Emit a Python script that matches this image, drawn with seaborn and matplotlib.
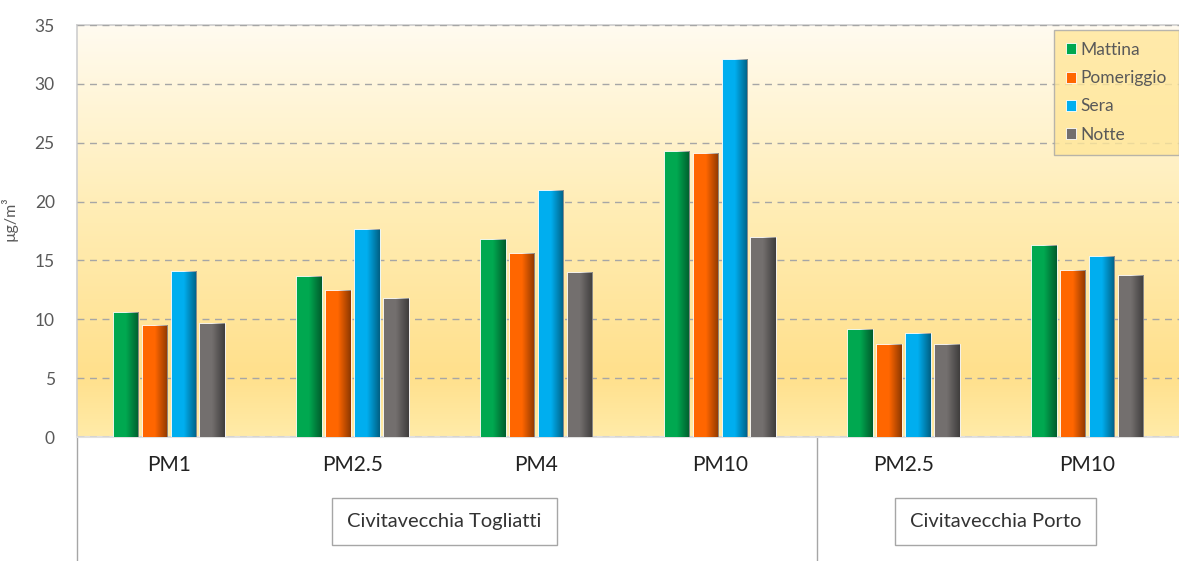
import numpy as np
import pandas as pd
import matplotlib
matplotlib.use("Agg")
import matplotlib.pyplot as plt
import matplotlib.transforms as mtransforms
from matplotlib.colors import LinearSegmentedColormap
import seaborn as sns

# dati (µg/m3)
sites = ["Civitavecchia Togliatti"] * 4 + ["Civitavecchia Porto"] * 2
pm_labels = ["PM1", "PM2.5", "PM4", "PM10", "PM2.5", "PM10"]
periods = ["Mattina", "Pomeriggio", "Sera", "Notte"]
mattina = [10.6, 13.7, 16.8, 24.3, 9.2, 16.3]
pomeriggio = [9.5, 12.5, 15.6, 24.1, 7.9, 14.2]
sera = [14.1, 17.7, 21.0, 32.1, 8.8, 15.4]
notte = [9.7, 11.8, 14.0, 17.0, 7.9, 13.8]
palette = ["#00A850", "#FF6600", "#00AEEF", "#736F6E"]

rows = []
for i, (site, pm) in enumerate(zip(sites, pm_labels)):
    for per, vals in zip(periods, [mattina, pomeriggio, sera, notte]):
        rows.append({"key": f"{site}|{pm}", "period": per, "value": vals[i]})
df = pd.DataFrame(rows)
order = [f"{s}|{p}" for s, p in zip(sites, pm_labels)]

sns.set_theme(style="white")
plt.rcParams["font.family"] = ["Lato", "DejaVu Sans"]

fig = plt.figure(figsize=(11.79, 5.61), dpi=100)
ax = fig.add_axes([77 / 1179, 124 / 561, 1102 / 1179, 412 / 561])

# sfondo sfumato
grad_cmap = LinearSegmentedColormap.from_list(
    "bg", [(0.0, "#FFEBA8"), (0.15, "#FFE08C"), (0.55, "#FFEDB5"), (1.0, "#FFFBF0")]
)
ax.imshow(np.linspace(0, 1, 256).reshape(-1, 1), cmap=grad_cmap, aspect="auto",
          extent=[0, 1, 0, 1], origin="lower", transform=ax.transAxes, zorder=0)

sns.barplot(data=df, x="key", y="value", hue="period", order=order, hue_order=periods,
            palette=palette, width=0.63, gap=0.12, saturation=1, ax=ax, zorder=3,
            edgecolor="#FFFFFF", linewidth=0.6, legend=True)

# ombreggiatura tipo Excel sulle barre
shade = LinearSegmentedColormap.from_list("shade", [(0, 0, 0, 0), (0, 0, 0, 0), (0, 0, 0, 0.45)])
for patch in list(ax.patches):
    x0, y0 = patch.get_x(), patch.get_y()
    w, h = patch.get_width(), patch.get_height()
    if h <= 0:
        continue
    im = ax.imshow(np.linspace(0, 1, 64).reshape(1, -1), cmap=shade, aspect="auto",
                   extent=[x0, x0 + w, y0, y0 + h], zorder=4, interpolation="bilinear")
    im.set_clip_path(patch)

ax.set_xlim(-0.5, len(order) - 0.5)
ax.set_ylim(0, 35)
ax.set_yticks(range(0, 36, 5))
ax.yaxis.grid(True, linestyle=(0, (5, 4)), color="#A6A6A6", linewidth=1.0, zorder=1)
ax.set_axisbelow(False)
for line in ax.get_ygridlines():
    line.set_zorder(1)
ax.tick_params(axis="y", labelsize=12.5, labelcolor="#595959", length=0, pad=16)
ax.set_xticks(range(len(order)))
ax.set_xticklabels(pm_labels, fontsize=15, color="#222222")
ax.tick_params(axis="x", length=0, pad=13)
ax.set_xlabel("")
ax.set_ylabel("µg/m³", fontsize=11.5, color="#595959")
ax.yaxis.set_label_coords(-0.054, 0.53)

for side in ["left", "top", "right"]:
    ax.spines[side].set_color("#D0D0D0")
ax.spines["right"].set_visible(False)
ax.spines["bottom"].set_color("#E0E0E0")
ax.spines["bottom"].set_linewidth(1.5)

# linee separatrici sotto l'asse
trans = mtransforms.blended_transform_factory(ax.transData, ax.transAxes)
ax.plot([-0.5, -0.5], [0, -0.31], transform=trans, color="#A6A6A6", lw=1, clip_on=False)
ax.plot([3.53, 3.53], [0, -0.31], transform=trans, color="#A6A6A6", lw=1, clip_on=False)

box = dict(boxstyle="square,pad=0.75", facecolor="white", edgecolor="#A6A6A6", linewidth=1)
ax.text(1.5, -0.205, "Civitavecchia Togliatti", transform=trans, ha="center", va="center",
        fontsize=14.5, color="#333333", bbox=box)
ax.text(4.5, -0.205, "Civitavecchia Porto", transform=trans, ha="center", va="center",
        fontsize=14.5, color="#333333", bbox=box)

leg = ax.legend(loc="upper right", bbox_to_anchor=(1.0, 0.988), borderaxespad=0, frameon=True,
                fontsize=12.5, handlelength=0.6, handleheight=0.6, handletextpad=0.25,
                labelspacing=0.7, borderpad=0.7, fancybox=False, labelcolor="#595959")
leg.get_frame().set_facecolor("#FFE699")
leg.get_frame().set_edgecolor("#A6A6A6")
leg.set_zorder(10)

fig.savefig("out.png", dpi=100)
